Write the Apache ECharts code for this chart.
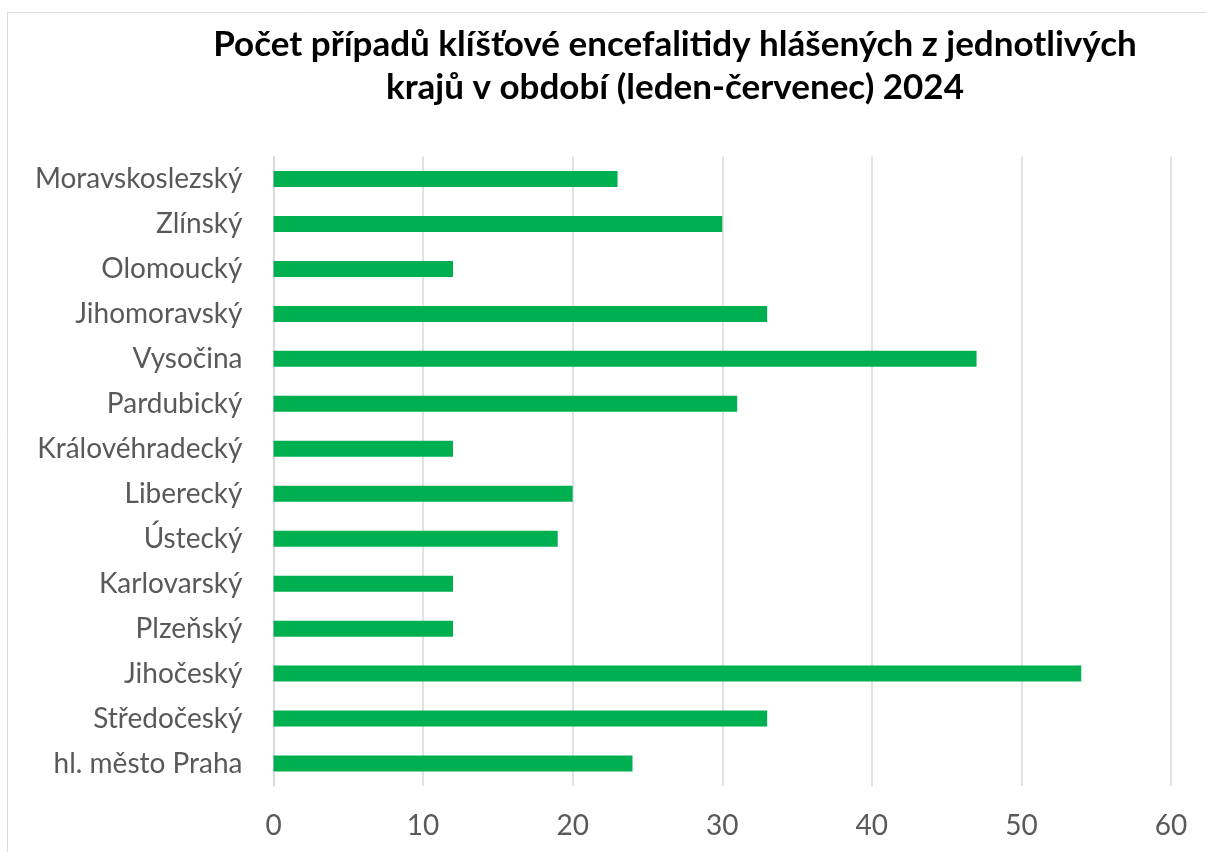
<!DOCTYPE html>
<html>
<head>
<meta charset="utf-8">
<script src="https://cdn.jsdelivr.net/npm/echarts@6/dist/echarts.min.js"></script>
<style>
html,body{margin:0;padding:0;background:#fff;}
#main{width:1206px;height:852px;}
</style>
</head>
<body>
<div id="main"></div>
<script>
const titleLines = ['Počet případů klíšťové encefalitidy hlášených z jednotlivých', 'krajů v období (leden-červenec) 2024'];
const categories = ['hl. město Praha', 'Středočeský', 'Jihočeský', 'Plzeňský', 'Karlovarský', 'Ústecký', 'Liberecký', 'Královéhradecký', 'Pardubický', 'Vysočina', 'Jihomoravský', 'Olomoucký', 'Zlínský', 'Moravskoslezský'];
const values = [24, 33, 54, 12, 12, 19, 20, 12, 31, 47, 33, 12, 30, 23];
const xTicks = [0, 10, 20, 30, 40, 50, 60];

const FONT = 'Lato, "Open Sans", sans-serif';
const chart = echarts.init(document.getElementById('main'));
chart.setOption({
  animation: false,
  graphic: [
    { type: 'rect', shape: { x: 7.5, y: 12.5, width: 1300, height: 1000 }, style: { fill: 'none', stroke: '#d9d9d9', lineWidth: 1 }, silent: true },
    { type: 'text', x: 675, y: 45, style: { text: titleLines[0], font: 'bold 35px ' + FONT, fill: '#000', textAlign: 'center', textVerticalAlign: 'middle' } },
    { type: 'text', x: 675, y: 88, style: { text: titleLines[1], font: 'bold 35px ' + FONT, fill: '#000', textAlign: 'center', textVerticalAlign: 'middle' } }
  ],
  grid: { left: 273.5, right: 35, top: 156.5, bottom: 66, containLabel: false },
  xAxis: {
    type: 'value', min: xTicks[0], max: xTicks[xTicks.length - 1], interval: 10,
    axisLine: { show: false }, axisTick: { show: false },
    splitLine: { show: true, lineStyle: { color: '#d9d9d9', width: 1.5 } },
    axisLabel: { color: '#595959', fontSize: 28, fontFamily: FONT, margin: 26 }
  },
  yAxis: {
    type: 'category', data: categories,
    axisLine: { show: true, lineStyle: { color: '#d9d9d9', width: 1.5 } },
    axisTick: { show: false },
    axisLabel: { color: '#595959', fontSize: 28, fontFamily: FONT, margin: 31 }
  },
  series: [{
    type: 'bar', data: values, barWidth: 16,
    itemStyle: { color: '#00B050' }
  }]
});
</script>
</body>
</html>
